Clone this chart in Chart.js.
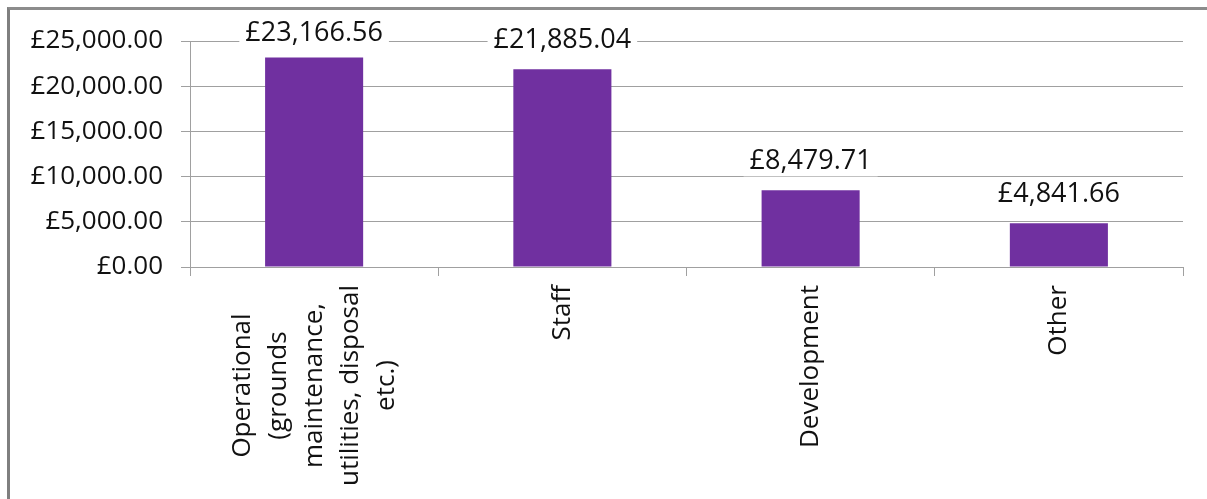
<!DOCTYPE html>
<html>
<head>
<meta charset="utf-8">
<script src="https://cdn.jsdelivr.net/npm/chart.js@4/dist/chart.umd.min.js"></script>
<style>
    html, body { margin: 0; padding: 0; background: #fff; }
    #wrap { position: relative; width: 1207px; height: 499px; overflow: hidden; }
    #frame {
        position: absolute; left: 7px; top: 7px; right: -10px; bottom: -10px;
        border-left: 3px solid #7f7f7f; border-top: 3px solid #8c8c8c;
        pointer-events: none;
    }
</style>
</head>
<body>
<div id="wrap">
    <canvas id="costChart" width="1207" height="499"></canvas>
    <div id="frame"></div>
</div>
<script>
const categories = [
    ['Operational', '(grounds', 'maintenance,', 'utilities, disposal', 'etc.)'],
    ['Staff'],
    ['Development'],
    ['Other']
];
const spend = [23166.56, 21885.04, 8479.71, 4841.66];
const yMin = 0;
const yMax = 25000;
const yStep = 5000;

const FONT = '"Open Sans", "Liberation Sans", sans-serif';
const BAR_COLOUR = '#7030a0';
const GRID_COLOUR = '#a0a0a0';

function formatGBP(v) {
    const parts = v.toFixed(2).split('.');
    parts[0] = parts[0].replace(/\B(?=(\d{3})+(?!\d))/g, ',');
    return '£' + parts.join('.');
}

// value labels sit above each bar on a white patch that breaks the gridline
const valueLabels = {
    id: 'valueLabels',
    afterDatasetsDraw(chart) {
        const ctx = chart.ctx;
        const meta = chart.getDatasetMeta(0);
        ctx.save();
        ctx.font = '27px ' + FONT;
        ctx.textAlign = 'center';
        ctx.textBaseline = 'middle';
        meta.data.forEach((bar, i) => {
            const text = formatGBP(spend[i]);
            const w = ctx.measureText(text).width;
            const cy = Math.max(bar.y - 29, 33);
            ctx.fillStyle = '#fff';
            ctx.fillRect(bar.x - w / 2 - 6, cy - 15, w + 12, 30);
            ctx.fillStyle = '#111';
            ctx.fillText(text, bar.x, cy);
        });
        ctx.restore();
    }
};

// rotated, centre-aligned multi-line category labels
const categoryLabels = {
    id: 'categoryLabels',
    afterDraw(chart) {
        const ctx = chart.ctx;
        const xScale = chart.scales.x;
        const lineHeight = 36;
        const top = 285;
        ctx.save();
        ctx.font = '26px ' + FONT;
        ctx.fillStyle = '#111';
        ctx.textAlign = 'center';
        ctx.textBaseline = 'middle';
        categories.forEach((lines, i) => {
            const x = xScale.getPixelForValue(i);
            const maxW = Math.max(...lines.map(l => ctx.measureText(l).width));
            ctx.save();
            ctx.translate(x, top);
            ctx.rotate(-Math.PI / 2);
            lines.forEach((line, j) => {
                const off = (j - (lines.length - 1) / 2) * lineHeight;
                ctx.fillText(line, -maxW / 2, off);
            });
            ctx.restore();
        });
        ctx.restore();
    }
};

const ctx = document.getElementById('costChart').getContext('2d');

new Chart(ctx, {
    type: 'bar',
    data: {
        labels: categories.map(c => c.join(' ')),
        datasets: [{
            data: spend,
            backgroundColor: BAR_COLOUR,
            borderWidth: 0,
            categoryPercentage: 1,
            barPercentage: 0.395
        }]
    },
    options: {
        responsive: false,
        animation: false,
        devicePixelRatio: 1,
        layout: { padding: { top: 41, right: 24, left: 0, bottom: 0 } },
        plugins: {
            legend: { display: false },
            tooltip: { enabled: false }
        },
        scales: {
            x: {
                offset: true,
                afterFit: scale => { scale.height = 232; },
                grid: {
                    drawOnChartArea: false,
                    drawTicks: true,
                    tickLength: 9,
                    color: GRID_COLOUR,
                    offset: true
                },
                border: { color: GRID_COLOUR, width: 1 },
                ticks: { callback: () => '' }
            },
            y: {
                min: yMin,
                max: yMax,
                afterFit: scale => { scale.width = 190; },
                grid: {
                    color: GRID_COLOUR,
                    tickLength: 9
                },
                border: { color: GRID_COLOUR, width: 1 },
                ticks: {
                    stepSize: yStep,
                    padding: 18,
                    color: '#111',
                    font: { family: FONT, size: 26 },
                    callback: v => formatGBP(v)
                }
            }
        }
    },
    plugins: [valueLabels, categoryLabels]
});
</script>
</body>
</html>
